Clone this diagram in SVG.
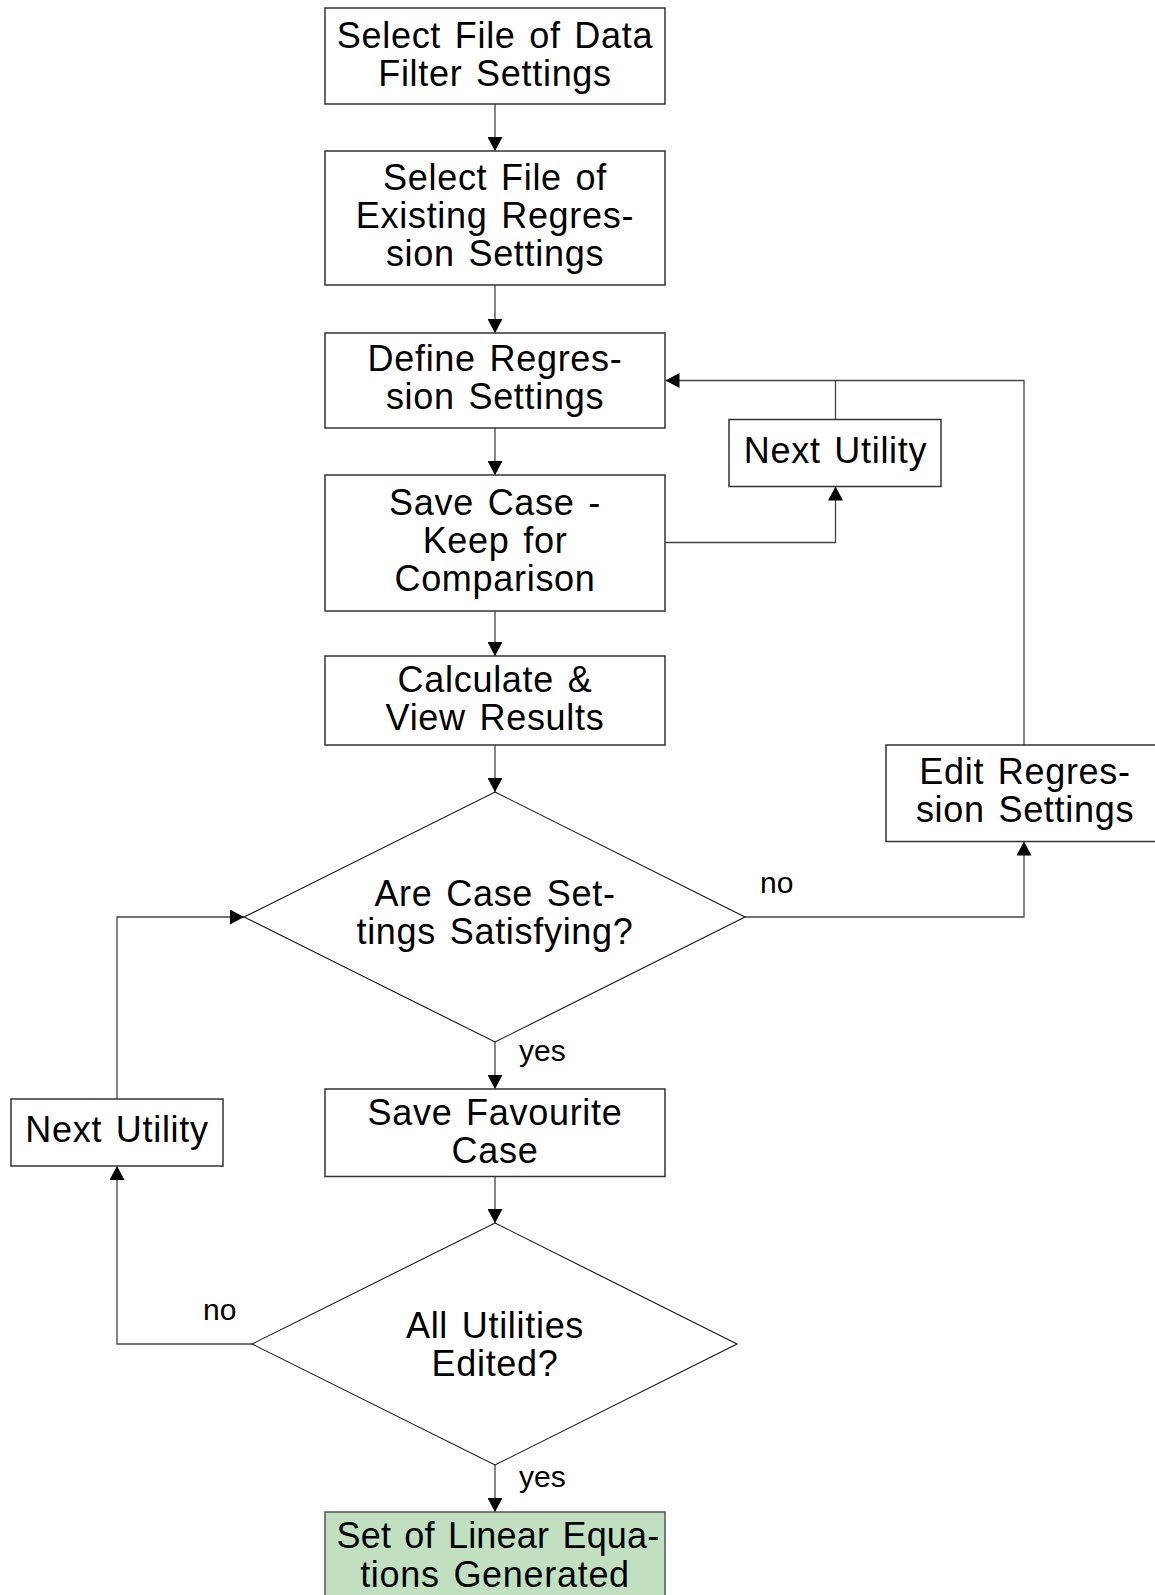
<svg xmlns="http://www.w3.org/2000/svg" width="1155" height="1595" viewBox="0 0 1155 1595">
  <defs>
    <marker id="arrow" markerUnits="userSpaceOnUse" markerWidth="15" markerHeight="15" refX="14" refY="7.5" orient="auto">
      <path d="M0,0 L14,7.5 L0,15 z" fill="#000"/>
    </marker>
    <style>
      .box { fill: #fff; stroke: #333; stroke-width: 1.5; }
      .end { fill: #c1e0c0; stroke: #555; stroke-width: 1.5; }
      .dec { fill: #fff; stroke: #111; stroke-width: 1.1; }
      .lbl { font-family: "Liberation Sans", Arial, sans-serif; font-size: 36px; fill: #000; text-anchor: middle; letter-spacing: 0.7px; word-spacing: 3px; }
      .tight { letter-spacing: 0.2px; }
      .tag { font-family: "Liberation Sans", Arial, sans-serif; font-size: 30px; fill: #000; }
      .edge { fill: none; stroke: #444; stroke-width: 1.3; }
      .arr { marker-end: url(#arrow); }
    </style>
  </defs>
  <rect width="1155" height="1595" fill="#fff"/>

  <!-- connectors -->
  <g id="connectors">
    <path class="edge arr" d="M495,104 V151"/>
    <path class="edge arr" d="M495,285 V333"/>
    <path class="edge arr" d="M495,428 V475"/>
    <path class="edge arr" d="M495,611 V656"/>
    <path class="edge arr" d="M495,745 V792"/>
    <path class="edge arr" d="M495,1042 V1089"/>
    <path class="edge arr" d="M495,1176 V1223"/>
    <path class="edge arr" d="M495,1465 V1512"/>
    <!-- loop back from the "no" branch of the first decision -->
    <path class="edge arr" d="M745,917 H1024 V841.5"/>
    <path class="edge arr" d="M1024,745 V380.5 H665.5"/>
    <path class="edge" d="M835.5,419.5 V380.5"/>
    <path class="edge arr" d="M665.5,542.5 H835.5 V486.5"/>
    <!-- loop back from the "no" branch of the second decision -->
    <path class="edge arr" d="M252,1344 H117 V1166"/>
    <path class="edge arr" d="M117,1099 V917 H244"/>
    <text class="tag" x="519" y="1061">yes</text>
    <text class="tag" x="519" y="1487">yes</text>
    <text class="tag" x="760" y="893">no</text>
    <text class="tag" x="203" y="1320">no</text>
  </g>

  <g id="select-filter">
    <rect class="box" x="325" y="8" width="340" height="96"/>
    <text class="lbl" x="495" y="47.5">Select File of Data</text>
    <text class="lbl" x="495" y="85.5">Filter Settings</text>
  </g>

  <g id="select-regression">
    <rect class="box" x="325" y="151" width="340" height="134"/>
    <text class="lbl" x="495" y="190">Select File of</text>
    <text class="lbl" x="495" y="228">Existing Regres-</text>
    <text class="lbl" x="495" y="266">sion Settings</text>
  </g>

  <g id="define-regression">
    <rect class="box" x="325" y="333" width="340" height="95"/>
    <text class="lbl" x="495" y="371">Define Regres-</text>
    <text class="lbl" x="495" y="409">sion Settings</text>
  </g>

  <g id="save-case">
    <rect class="box" x="325" y="475" width="340" height="136"/>
    <text class="lbl" x="495" y="514.5">Save Case -</text>
    <text class="lbl" x="495" y="552.5">Keep for</text>
    <text class="lbl" x="495" y="590.5">Comparison</text>
  </g>

  <g id="calculate">
    <rect class="box" x="325" y="656" width="340" height="89"/>
    <text class="lbl" x="495" y="692">Calculate &amp;</text>
    <text class="lbl" x="495" y="730">View Results</text>
  </g>

  <g id="next-utility-top">
    <rect class="box" x="729" y="419.5" width="212" height="67"/>
    <text class="lbl" x="835.5" y="462.5">Next Utility</text>
  </g>

  <g id="edit-regression">
    <rect class="box" x="886" y="745" width="276" height="96.5"/>
    <text class="lbl" x="1025" y="784">Edit Regres-</text>
    <text class="lbl" x="1025" y="822">sion Settings</text>
  </g>

  <g id="case-satisfying">
    <polygon class="dec" points="495,792 745,917 495,1042 244,917"/>
    <text class="lbl" x="495" y="906">Are Case Set-</text>
    <text class="lbl" x="495" y="944">tings Satisfying?</text>
  </g>

  <g id="save-favourite">
    <rect class="box" x="325" y="1089" width="340" height="87.5"/>
    <text class="lbl" x="495" y="1125">Save Favourite</text>
    <text class="lbl" x="495" y="1163">Case</text>
  </g>

  <g id="next-utility-left">
    <rect class="box" x="11" y="1099" width="212" height="67"/>
    <text class="lbl" x="117" y="1141.5">Next Utility</text>
  </g>

  <g id="all-edited">
    <polygon class="dec" points="495,1223 737,1344 495,1465 252,1344"/>
    <text class="lbl" x="495" y="1338">All Utilities</text>
    <text class="lbl" x="495" y="1376">Edited?</text>
  </g>

  <g id="equations-generated">
    <rect class="end" x="325" y="1512" width="340" height="96"/>
    <text class="lbl tight" x="498" y="1548">Set of Linear Equa-</text>
    <text class="lbl" x="495" y="1586.5">tions Generated</text>
  </g>
</svg>
